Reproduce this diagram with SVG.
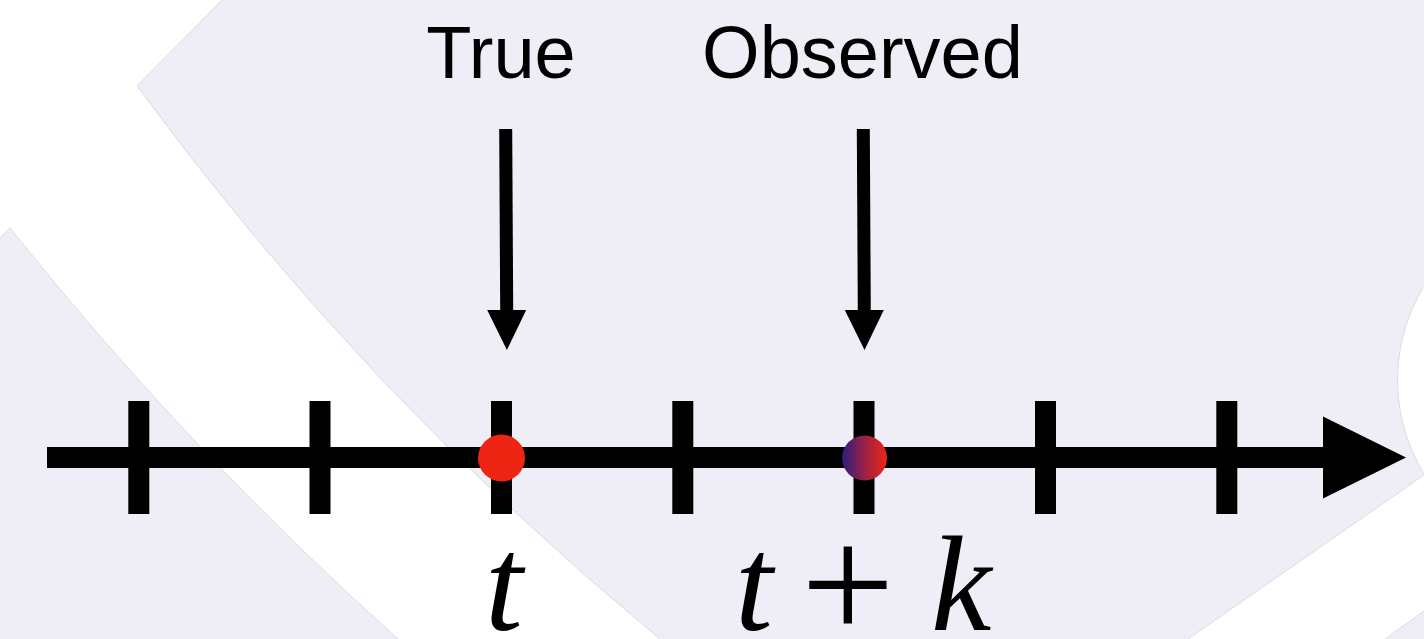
<svg xmlns="http://www.w3.org/2000/svg" width="1424" height="639" viewBox="0 0 1424 639">
  <defs>
    <style>
      .bg { fill: #EFEEF7; }
      .band { fill: #FFFFFF; stroke: #CFCED8; stroke-width: 0.7; }
      .tick { fill: #000000; }
      .label { font-family: "Helvetica Neue", "Liberation Sans", Arial, sans-serif; font-size: 74px; fill: #000000; text-anchor: middle; }
      .math { font-family: "Liberation Serif", "Times New Roman", serif; font-style: italic; font-size: 136px; fill: #000000; }
      .op { font-style: normal; font-size: 166px; }
      .pointer { stroke: #000000; stroke-width: 13; fill: none; }
      .axis { stroke: #000000; stroke-width: 21; fill: none; }
    </style>
    <marker id="head-small" markerUnits="userSpaceOnUse" markerWidth="40" markerHeight="39" refX="0" refY="19.5" orient="auto" overflow="visible">
      <path d="M0,0 L40,19.5 L0,39 Z" fill="#000000"/>
    </marker>
    <marker id="head-axis" markerUnits="userSpaceOnUse" markerWidth="83" markerHeight="82" refX="0" refY="41" orient="auto" overflow="visible">
      <path d="M0,0 L83,41 L0,82 Z" fill="#000000"/>
    </marker>
    <linearGradient id="mix" x1="0" y1="0" x2="1" y2="0">
      <stop offset="0" stop-color="#2B1C80"/>
      <stop offset="0.5" stop-color="#9A2145"/>
      <stop offset="1" stop-color="#EE2414"/>
    </linearGradient>
  </defs>

  <!-- backdrop: lavender field with white arc bands (shapes run past the edges so only inner borders show) -->
  <g id="background">
    <rect class="bg" x="0" y="0" width="1424" height="639"/>
    <path class="band" d="M-10,-10 H232 L137,86 A3052,3052 0 0 0 660,639 L671,650 H387 L398,639 A3374,3374 0 0 1 10,228 L-10,248 Z"/>
    <circle class="band" cx="1577.5" cy="380" r="180"/>
    <path class="band" d="M1440,463.9 L1188,639 L1173.6,649 H1371 L1385,639 L1440,599.5 Z"/>
  </g>

  <!-- time axis and pointer arrows -->
  <g id="connectors">
    <line id="time-axis" class="axis" x1="47" y1="457.5" x2="1323" y2="457.5" marker-end="url(#head-axis)"/>
    <line id="arrow-true" class="pointer" x1="505.7" y1="129" x2="506.7" y2="310" marker-end="url(#head-small)"/>
    <line id="arrow-observed" class="pointer" x1="863.3" y1="129" x2="864.3" y2="310" marker-end="url(#head-small)"/>
  </g>

  <g id="ticks">
    <rect class="tick" x="128.3" y="401" width="21" height="113"/>
    <rect class="tick" x="309.5" y="401" width="21" height="113"/>
    <rect class="tick" x="491" y="401" width="21" height="113"/>
    <rect class="tick" x="672.3" y="401" width="21" height="113"/>
    <rect class="tick" x="853.5" y="401" width="21" height="113"/>
    <rect class="tick" x="1035" y="401" width="21" height="113"/>
    <rect class="tick" x="1216.3" y="401" width="21" height="113"/>
  </g>

  <g id="point-true">
    <circle cx="501.5" cy="458" r="23.5" fill="#EE2512"/>
  </g>
  <g id="point-observed">
    <circle cx="864.5" cy="458" r="22.5" fill="url(#mix)"/>
  </g>

  <g id="label-true">
    <text class="label" x="501" y="77.5">True</text>
  </g>
  <g id="label-observed">
    <text class="label" x="862.5" y="77.5">Observed</text>
  </g>

  <g id="label-t">
    <text class="math" x="485" y="630">t</text>
  </g>
  <g id="label-t-plus-k">
    <text class="math" y="630"><tspan x="735">t</tspan><tspan class="op" x="801" y="640">+</tspan><tspan x="931" y="630">k</tspan></text>
  </g>
</svg>
